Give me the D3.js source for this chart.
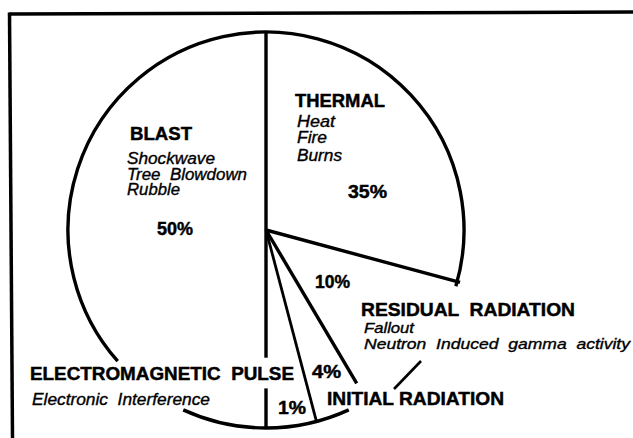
<!DOCTYPE html>
<html><head><meta charset="utf-8">
<script src="https://cdn.jsdelivr.net/npm/d3@7"></script>
<style>html,body{margin:0;padding:0;background:#fff;} svg{display:block;}</style>
</head><body><svg id="chart" width="633" height="438"></svg>
<script>
// ---- data ----
const categories = ["THERMAL", "RESIDUAL  RADIATION", "INITIAL RADIATION", "ELECTROMAGNETIC  PULSE", "BLAST"];
const percentValues = [35, 10, 4, 1, 50];
const percentLabels = ["35%", "10%", "4%", "1%", "50%"];
// share of the circle each slice occupies as actually drawn (the artwork is not to scale), %
const drawnShare = [29.2, 12.3, 4.4, 4.1, 50];
const subLabels = [
  ["Heat", "Fire", "Burns"],
  ["Fallout", "Neutron  Induced  gamma  activity"],
  [],
  ["Electronic  Interference"],
  ["Shockwave", "Tree  Blowdown", "Rubble"]
];

// ---- layout ----
const W = 633, H = 438, cx = 266, cy = 230, R = 198;
const deg = Math.PI / 180;
const svg = d3.select("#chart");
svg.append("rect").attr("width", W).attr("height", H).attr("fill", "#fff");

// frame (top and left rules of the scanned page)
svg.append("path").attr("d", d3.line()([[9.5, 14], [633, 12]]))
  .attr("stroke", "#000").attr("stroke-width", 3.5).attr("fill", "none");
svg.append("path").attr("d", d3.line()([[9.5, 12.5], [12.5, 438]]))
  .attr("stroke", "#000").attr("stroke-width", 3.5).attr("fill", "none");

const pie = d3.pie().sort(null).value(d => d).startAngle(0).endAngle(2 * Math.PI);
const slices = pie(drawnShare);

const g = svg.append("g").attr("transform", `translate(${cx},${cy})`);

// outer outline: drawn only where no label sits on it
const outlineRuns = [[-131.5, 106.5], [155.3, 204.7]];
outlineRuns.forEach(([a0, a1]) => {
  const p = d3.path();
  p.arc(0, 0, R, a0 * deg - Math.PI / 2, a1 * deg - Math.PI / 2);
  g.append("path").attr("d", p.toString())
    .attr("fill", "none").attr("stroke", "#000").attr("stroke-width", 3.4);
});

// slice boundaries (start angle of every slice), with breaks for labels
const boundarySegments = [
  [[0, 1]],
  [[0, 1.015]],
  [[0, 0.9]],
  [[0, 1]],
  [[0, 0.645], [0.8, 1]]
];
slices.forEach((s, i) => {
  boundarySegments[i].forEach(([f0, f1]) => {
    g.append("path")
      .attr("d", d3.line()([d3.pointRadial(s.startAngle, f0 * R), d3.pointRadial(s.startAngle, f1 * R)]))
      .attr("stroke", "#000").attr("stroke-width", i === 3 ? 2.8 : 3.4)
      .attr("stroke-linecap", "butt").attr("fill", "none");
  });
});

// leader stroke between residual and initial radiation labels
g.append("path").attr("d", d3.line()([[155, 131], [128, 159]]))
  .attr("stroke", "#000").attr("stroke-width", 2.6).attr("fill", "none");

// ---- labels (offsets from pie centre: left x, baseline y, target width) ----
const titleLayout = [
  {dx: 29, dy: -123.5, w: 90},
  {dx: 95, dy: 85.5, w: 214},
  {dx: 61, dy: 175, w: 177},
  {dx: -236, dy: 150, w: 264},
  {dx: -136, dy: -90, w: 62}
];
const subLayout = [
  [{dx: 31, dy: -103, w: 38}, {dx: 31, dy: -87, w: 30}, {dx: 31, dy: -69, w: 45}],
  [{dx: 98, dy: 103, w: 50}, {dx: 98, dy: 118.5, w: 266}],
  [],
  [{dx: -234, dy: 175, w: 178}],
  [{dx: -139, dy: -66, w: 88}, {dx: -139, dy: -50.5, w: 120}, {dx: -139, dy: -35, w: 53}]
];
const pctLayout = [
  {dx: 82, dy: -32, w: 39},
  {dx: 49, dy: 57.5, w: 35},
  {dx: 46, dy: 148, w: 29},
  {dx: 12, dy: 184, w: 28},
  {dx: -109, dy: 5, w: 36}
];

const font = "'Liberation Sans', Arial, Helvetica, sans-serif";
function addText(txt, L, size, weight, style) {
  g.append("text").attr("x", L.dx).attr("y", L.dy)
    .attr("font-family", font).attr("font-size", size)
    .attr("font-weight", weight).attr("font-style", style)
    .attr("fill", "#000").attr("stroke", "#000").attr("stroke-width", weight === "bold" ? 0.45 : 0.35)
    .attr("textLength", L.w).attr("lengthAdjust", "spacingAndGlyphs")
    .attr("xml:space", "preserve")
    .text(txt);
}
categories.forEach((c, i) => {
  addText(c, titleLayout[i], 18, "bold", "normal");
  subLabels[i].forEach((t, j) => addText(t, subLayout[i][j], i === 1 ? 14.5 : 16, "normal", "italic"));
  addText(percentLabels[i], pctLayout[i], 18, "bold", "normal");
});
</script></body></html>
